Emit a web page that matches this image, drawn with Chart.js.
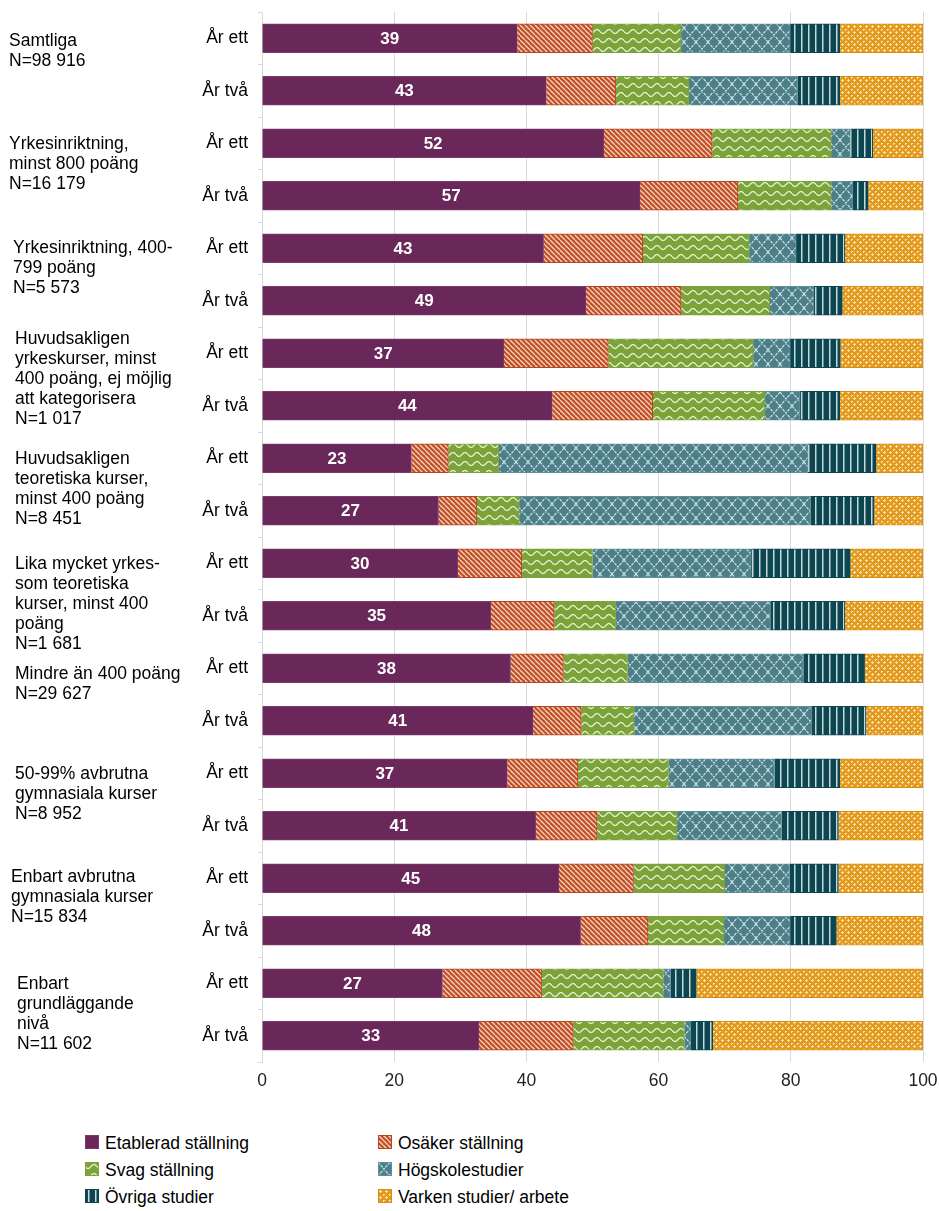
<!DOCTYPE html>
<html>
<head>
<meta charset="utf-8">
<script src="https://cdn.jsdelivr.net/npm/chart.js@4"></script>
<style>
  html, body { margin: 0; padding: 0; background: #fff; }
  body { width: 939px; height: 1211px; position: relative; overflow: hidden;
         font-family: 'Liberation Sans', Arial, sans-serif; color: #000; }
  #wrap { position: absolute; left: 0; top: 0; width: 939px; height: 1100px; }
  .grp { position: absolute; font-size: 17.5px; line-height: 20px; white-space: nowrap; }
  .leg { position: absolute; font-size: 17.5px; line-height: 20px; white-space: nowrap; }
  .leg canvas { position: absolute; left: -20px; top: 2px; }
</style>
</head>
<body>
<div id="wrap"><canvas id="c" width="939" height="1100"></canvas></div>
<div id="labels"></div>
<div id="legend"></div>
<script>
// ---------- DATA ----------
const categories = [
  'År ett','År två','År ett','År två','År ett','År två','År ett','År två','År ett','År två',
  'År ett','År två','År ett','År två','År ett','År två','År ett','År två','År ett','År två'
];
const seriesNames = ['Etablerad ställning','Osäker ställning','Svag ställning','Högskolestudier','Övriga studier','Varken studier/ arbete'];
const etablerad = [38.6, 43.0, 51.7, 57.2, 42.6, 49.0, 36.6, 43.9, 22.6, 26.7, 29.6, 34.6, 37.6, 41.0, 37.1, 41.4, 44.9, 48.2, 27.3, 32.8];
const osaker    = [11.4, 10.5, 16.4, 14.8, 15.0, 14.4, 15.8, 15.2, 5.6, 5.8, 9.7, 9.6, 8.0, 7.3, 10.7, 9.3, 11.3, 10.2, 15.0, 14.3];
const svag      = [13.4, 11.1, 18.0, 14.1, 16.1, 13.4, 21.9, 17.0, 7.6, 6.4, 10.7, 9.3, 9.7, 8.0, 13.7, 12.1, 13.8, 11.5, 18.4, 16.8];
const hogskola  = [16.5, 16.4, 2.9, 3.3, 7.1, 6.7, 5.6, 5.3, 46.8, 44.1, 24.0, 23.4, 26.6, 26.9, 16.0, 15.8, 9.8, 10.0, 1.1, 1.0];
const ovriga    = [7.5, 6.4, 3.4, 2.3, 7.4, 4.3, 7.6, 6.0, 10.3, 9.6, 15.0, 11.3, 9.3, 8.2, 9.9, 8.6, 7.4, 7.0, 3.9, 3.3];
const varken    = [12.6, 12.6, 7.6, 8.3, 11.8, 12.2, 12.5, 12.6, 7.1, 7.4, 11.0, 11.8, 8.8, 8.6, 12.6, 12.8, 12.8, 13.1, 34.3, 31.8];
const xTicks = [0, 20, 40, 60, 80, 100];
const groupLabels = [
  ['Samtliga','N=98 916'],
  ['Yrkesinriktning,','minst 800 poäng','N=16 179'],
  ['Yrkesinriktning, 400-','799 poäng','N=5 573'],
  ['Huvudsakligen','yrkeskurser, minst','400 poäng, ej möjlig','att kategorisera','N=1 017'],
  ['Huvudsakligen','teoretiska kurser,','minst 400 poäng','N=8 451'],
  ['Lika mycket yrkes-','som teoretiska','kurser, minst 400','poäng','N=1 681'],
  ['Mindre än 400 poäng','N=29 627'],
  ['50-99% avbrutna','gymnasiala kurser','N=8 952'],
  ['Enbart avbrutna','gymnasiala kurser','N=15 834'],
  ['Enbart','grundläggande','nivå','N=11 602']
];

// ---------- STYLE ----------
const FONT = "'Liberation Sans', Arial, sans-serif";
const labelPos = [[9,40],[9,143],[13,247],[15,338],[15,458],[15,563],[15,673],[15,773],[11,876],[17,983]];

function tile(w, h, base, draw) {
  const c = document.createElement('canvas'); c.width = w; c.height = h;
  const g = c.getContext('2d'); g.fillStyle = base; g.fillRect(0, 0, w, h); draw(g, w, h); return c;
}
const tiles = [
  tile(4, 4, '#69275A', () => {}),
  tile(5, 5, '#C24F26', (g, w, h) => {
    g.strokeStyle = 'rgba(255,238,225,0.85)'; g.lineWidth = 1.3;
    for (const x0 of [-w, 0, w]) { g.beginPath(); g.moveTo(x0, 0); g.lineTo(x0 + w, h); g.stroke(); }
  }),
  tile(12, 9, '#7CA23A', (g, w, h) => {
    g.strokeStyle = 'rgba(240,250,225,0.9)'; g.lineWidth = 1.3; g.beginPath();
    for (let x = 0; x <= w; x += 0.5) { const y = 4.5 + 2 * Math.sin(x / w * 2 * Math.PI); x === 0 ? g.moveTo(x, y) : g.lineTo(x, y); }
    g.stroke();
  }),
  tile(12, 14, '#4C7F88', (g, w, h) => {
    g.strokeStyle = 'rgba(220,236,238,0.9)'; g.lineWidth = 1.2; g.setLineDash([3, 1]);
    g.beginPath(); g.moveTo(0, 0); g.lineTo(w, h); g.moveTo(w, 0); g.lineTo(0, h); g.stroke();
  }),
  tile(7, 4, '#0C4650', (g, w, h) => {
    g.fillStyle = '#C9D8DA'; g.fillRect(3, 0, 1.5, h);
  }),
  tile(6, 6, '#E29B1E', (g) => {
    g.fillStyle = 'rgba(250,228,178,0.95)';
    g.fillRect(2, 1, 1, 3); g.fillRect(1, 2, 3, 1); g.fillRect(5, 5, 1, 1);
    g.fillRect(5, 0, 1, 1); g.fillRect(0, 5, 1, 1);
  })
];
const borderColors = ['#7A3A6B', '#B4461E', '#7CA23A', '#5F8E97', '#0C4650', '#D98E12'];

const ctx = document.getElementById('c').getContext('2d');
const patterns = tiles.map(t => ctx.createPattern(t, 'repeat'));
const seriesData = [etablerad, osaker, svag, hogskola, ovriga, varken];

const valueLabels = {
  id: 'valueLabels',
  afterDatasetsDraw(chart) {
    const meta = chart.getDatasetMeta(0);
    const c = chart.ctx;
    c.save();
    c.font = "bold 17px 'Liberation Sans', Arial, sans-serif";
    c.fillStyle = '#fff'; c.textAlign = 'center'; c.textBaseline = 'middle';
    meta.data.forEach((bar, i) => {
      c.fillText(String(Math.round(etablerad[i])), (bar.x + bar.base) / 2, bar.y + 1);
    });
    c.restore();
  }
};

new Chart(ctx, {
  type: 'bar',
  data: {
    labels: categories,
    datasets: seriesData.map((d, i) => ({
      label: seriesNames[i], data: d,
      backgroundColor: patterns[i], borderColor: borderColors[i], borderWidth: 1,
      barThickness: 29
    }))
  },
  options: {
    indexAxis: 'y', responsive: false, animation: false, devicePixelRatio: 1,
    layout: { padding: { top: 12, right: 16, left: 0, bottom: 0 } },
    plugins: { legend: { display: false }, tooltip: { enabled: false } },
    scales: {
      x: {
        stacked: true, min: 0, max: 100,
        afterBuildTicks: (s) => { s.ticks = xTicks.map(v => ({ value: v })); },
        grid: { color: '#D9D9D9', drawTicks: false },
        border: { display: false },
        ticks: { font: { size: 17.5, family: FONT }, color: '#222', padding: 9 },
        afterFit: (s) => { s.height = 38; s.paddingLeft = 0; s.paddingRight = 0; }
      },
      y: {
        stacked: true,
        grid: { display: true, drawOnChartArea: false, tickLength: 4, color: '#D9D9D9', offset: true },
        border: { display: true, color: '#D9D9D9' },
        ticks: { font: { size: 17.5, family: FONT }, color: '#000', padding: 10 },
        afterFit: (s) => { s.width = 262; s.paddingTop = 0; s.paddingBottom = 0; }
      }
    }
  },
  plugins: [valueLabels]
});

// group labels
const lab = document.getElementById('labels');
groupLabels.forEach((lines, i) => {
  const d = document.createElement('div'); d.className = 'grp';
  d.style.left = labelPos[i][0] + 'px'; d.style.top = (labelPos[i][1] - 10) + 'px';
  lines.forEach((l, k) => { if (k) d.appendChild(document.createElement('br')); d.appendChild(document.createTextNode(l)); });
  lab.appendChild(d);
});

// legend
const legPos = [[105,1133],[398,1133],[105,1160],[398,1160],[105,1187],[398,1187]];
const leg = document.getElementById('legend');
seriesNames.forEach((n, i) => {
  const d = document.createElement('div'); d.className = 'leg';
  d.style.left = legPos[i][0] + 'px'; d.style.top = legPos[i][1] + 'px';
  const cv = document.createElement('canvas'); cv.width = 14; cv.height = 14;
  const g = cv.getContext('2d');
  g.fillStyle = g.createPattern(tiles[i], 'repeat'); g.fillRect(0, 0, 14, 14);
  g.strokeStyle = borderColors[i]; g.lineWidth = 1; g.strokeRect(0.5, 0.5, 13, 13);
  d.appendChild(cv);
  d.appendChild(document.createTextNode(n));
  leg.appendChild(d);
});
</script>
</body>
</html>
